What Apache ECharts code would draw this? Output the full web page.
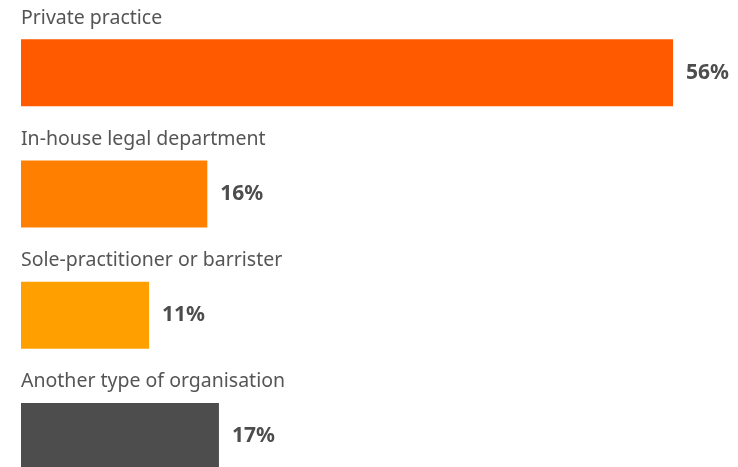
<!DOCTYPE html>
<html>
<head>
<meta charset="utf-8">
<style>
  html, body { margin: 0; padding: 0; background: #ffffff; }
  #chart { width: 738px; height: 467px; }
</style>
<script src="https://cdn.jsdelivr.net/npm/echarts@6/dist/echarts.min.js"></script>
</head>
<body>
<div id="chart"></div>
<script>
// Workplace categories and their share of respondents (%)
const categories = [
  'Private practice',
  'In-house legal department',
  'Sole-practitioner or barrister',
  'Another type of organisation'
];
const shares = [56, 16, 11, 17];
const barColors = ['#FF5A00', '#FF8000', '#FFA000', '#4D4D4D'];

const FONT = '"Noto Sans", "Open Sans", sans-serif';

const chart = echarts.init(document.getElementById('chart'), null, { renderer: 'canvas' });

chart.setOption({
  animation: false,
  grid: {
    left: 21, right: 30, top: 12, height: 485,
    containLabel: false, outerBoundsMode: 'none'
  },
  xAxis: {
    type: 'value', min: 0, max: 59, show: false
  },
  yAxis: {
    type: 'category', data: categories, inverse: true, show: false
  },
  series: [
    {
      // coloured bars with the percentage to their right
      type: 'bar',
      barWidth: 67,
      data: shares.map((v, i) => ({ value: v, itemStyle: { color: barColors[i] } })),
      label: {
        show: true,
        position: 'right',
        distance: 13,
        formatter: '{c}%',
        fontFamily: FONT,
        fontSize: 21,
        fontWeight: 'bold',
        color: '#4D4D4D'
      }
    },
    {
      // category names written above each bar
      type: 'bar',
      barWidth: 67,
      barGap: '-100%',
      silent: true,
      itemStyle: { color: 'rgba(0,0,0,0)' },
      data: shares,
      label: {
        show: true,
        position: [0, -21],
        align: 'left',
        verticalAlign: 'middle',
        formatter: '{b}',
        fontFamily: FONT,
        fontSize: 19.5,
        color: '#555555'
      }
    }
  ]
});
</script>
</body>
</html>
